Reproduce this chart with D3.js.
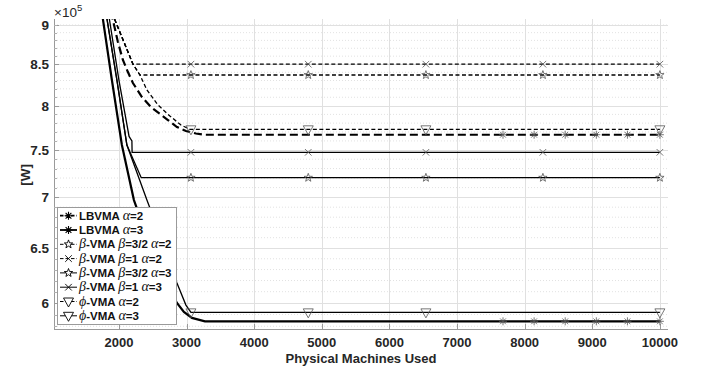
<!DOCTYPE html>
<html><head><meta charset="utf-8">
<script src="https://cdn.jsdelivr.net/npm/d3@7"></script>
<style>body{margin:0;background:#fff}svg{display:block}</style>
</head><body>
<svg id="chart" width="709" height="370"></svg>
<script>
// ---- data (x: physical machines, y: power in units of 1e5 W) ----
const xTicks = [2000, 3000, 4000, 5000, 6000, 7000, 8000, 9000, 10000];
const yTicks = [6, 6.5, 7, 7.5, 8, 8.5, 9];
const yMinor = [5.8, 5.9, 6.1, 6.2, 6.3, 6.4, 6.6, 6.7, 6.8, 6.9, 7.1, 7.2, 7.3, 7.4, 7.6, 7.7, 7.8, 7.9, 8.1, 8.2, 8.3, 8.4, 8.6, 8.7, 8.8, 8.9, 9.0];

const lbvma2X = [1837, 1911, 1985, 2059, 2133, 2207, 2340, 2473, 2606, 2725, 2858, 2991, 3139, 3272, 10000];
const lbvma2Y = [9.334, 9.066, 8.780, 8.552, 8.403, 8.270, 8.103, 7.986, 7.905, 7.835, 7.756, 7.711, 7.683, 7.669, 7.669];
const lbvma3X = [1719, 1763, 1896, 2044, 2222, 2458, 2680, 2858, 2961, 3080, 3272, 10000];
const lbvma3Y = [9.334, 9.079, 8.306, 7.555, 6.972, 6.530, 6.205, 6.000, 5.922, 5.871, 5.842, 5.842];
const beta32a2X = [1882, 1941, 2074, 2207, 2311, 10000];
const beta32a2Y = [9.334, 9.066, 8.780, 8.502, 8.367, 8.367];
const beta1a2X = [1882, 1941, 2074, 2207, 10000];
const beta1a2Y = [9.334, 9.066, 8.780, 8.50, 8.50];
const beta32a3X = [1778, 1970, 2118, 2330, 10000];
const beta32a3Y = [9.334, 8.306, 7.555, 7.203, 7.203];
const beta1a3X = [1815, 2000, 2150, 2192, 2195, 10000];
const beta1a3Y = [9.334, 8.306, 7.650, 7.600, 7.475, 7.475];
const phi2X = [1882, 1941, 2074, 2207, 2311, 2414, 2577, 2754, 2917, 3050, 10000];
const phi2Y = [9.334, 9.066, 8.780, 8.502, 8.367, 8.186, 8.009, 7.881, 7.779, 7.730, 7.730];
const phi3X = [1778, 1970, 2118, 2414, 2636, 2858, 2991, 3065, 10000];
const phi3Y = [9.334, 8.306, 7.555, 6.972, 6.577, 6.178, 5.982, 5.919, 5.919];

const lbvmaMarkX = [7680, 8140, 8600, 9060, 9520, 10000];
const betaMarkX = [3065, 4800, 6540, 8270, 10000];
const phiMarkX = [3065, 4800, 6540, 10000];

const seriesNames = [
  [["b","LBVMA "],["g","α"],["b","=2"]],
  [["b","LBVMA "],["g","α"],["b","=3"]],
  [["g","β"],["b","-VMA "],["g","β"],["b","=3/2 "],["g","α"],["b","=2"]],
  [["g","β"],["b","-VMA "],["g","β"],["b","=1 "],["g","α"],["b","=2"]],
  [["g","β"],["b","-VMA "],["g","β"],["b","=3/2 "],["g","α"],["b","=3"]],
  [["g","β"],["b","-VMA "],["g","β"],["b","=1 "],["g","α"],["b","=3"]],
  [["g","ϕ"],["b","-VMA "],["g","α"],["b","=2"]],
  [["g","ϕ"],["b","-VMA "],["g","α"],["b","=3"]]
];

const series = [
  {x: lbvma2X, y: lbvma2Y, m: lbvmaMarkX, marker: "asterisk", w: 2.2, dash: "8,4"},
  {x: lbvma3X, y: lbvma3Y, m: lbvmaMarkX, marker: "asterisk", w: 2.2, dash: null},
  {x: beta32a2X, y: beta32a2Y, m: betaMarkX, marker: "star", w: 1.3, dash: "4,2.5"},
  {x: beta1a2X, y: beta1a2Y, m: betaMarkX, marker: "cross", w: 1.3, dash: "4,2.5"},
  {x: beta32a3X, y: beta32a3Y, m: betaMarkX, marker: "star", w: 1.3, dash: null},
  {x: beta1a3X, y: beta1a3Y, m: betaMarkX, marker: "cross", w: 1.3, dash: null},
  {x: phi2X, y: phi2Y, m: phiMarkX, marker: "tri", w: 1.3, dash: "4,2.5"},
  {x: phi3X, y: phi3Y, m: phiMarkX, marker: "tri", w: 1.3, dash: null}
];

// ---- layout ----
const L = 54, R = 668, T = 19, B = 329;
const svg = d3.select("#chart");
const x = d3.scaleLinear().domain([1040, 10120]).range([L, R]);
const y = d3.scaleLog().domain([5.777, 9.079]).range([B, T]);

const SANS = "'Liberation Sans', Arial, sans-serif";
const SERIF = "'Liberation Serif', 'Times New Roman', serif";

// grid
const g = svg.append("g");
g.selectAll(".ymin").data(yMinor).join("line")
  .attr("x1", L).attr("x2", R).attr("y1", d => y(d)).attr("y2", d => y(d))
  .attr("stroke", "#e2e2e2").attr("stroke-width", 1).attr("stroke-dasharray", "1,2");
g.selectAll(".ymaj").data(yTicks).join("line")
  .attr("x1", L).attr("x2", R).attr("y1", d => Math.round(y(d)) + 0.5).attr("y2", d => Math.round(y(d)) + 0.5)
  .attr("stroke", "#e0e0e0").attr("stroke-width", 1);
g.selectAll(".xmaj").data(xTicks).join("line")
  .attr("x1", d => Math.round(x(d)) + 0.5).attr("x2", d => Math.round(x(d)) + 0.5).attr("y1", T).attr("y2", B)
  .attr("stroke", "#e0e0e0").attr("stroke-width", 1);

// axes
const ax = svg.append("g");
ax.append("line").attr("x1", L + 0.5).attr("x2", L + 0.5).attr("y1", T).attr("y2", B + 0.5).attr("stroke", "#9a9a9a");
ax.append("line").attr("x1", L).attr("x2", R).attr("y1", B + 0.5).attr("y2", B + 0.5).attr("stroke", "#9a9a9a");
ax.selectAll(".yt").data(yTicks).join("line")
  .attr("x1", L).attr("x2", L + 5).attr("y1", d => Math.round(y(d)) + 0.5).attr("y2", d => Math.round(y(d)) + 0.5).attr("stroke", "#9a9a9a");
ax.selectAll(".ytm").data(yMinor).join("line")
  .attr("x1", L).attr("x2", L + 3).attr("y1", d => Math.round(y(d)) + 0.5).attr("y2", d => Math.round(y(d)) + 0.5).attr("stroke", "#b0b0b0");
ax.selectAll(".xt").data(xTicks).join("line")
  .attr("x1", d => Math.round(x(d)) + 0.5).attr("x2", d => Math.round(x(d)) + 0.5).attr("y1", B).attr("y2", B - 5).attr("stroke", "#9a9a9a");

ax.selectAll(".yl").data(yTicks).join("text")
  .attr("x", 49).attr("y", d => y(d)).attr("dy", "0.36em").attr("text-anchor", "end")
  .attr("font-family", SANS).attr("font-weight", "bold").attr("font-size", 13.5).attr("fill", "#262626")
  .text(d => d3.format("")(d));
ax.selectAll(".xl").data(xTicks).join("text")
  .attr("x", d => x(d)).attr("y", 347).attr("text-anchor", "middle")
  .attr("font-family", SANS).attr("font-weight", "bold").attr("font-size", 13).attr("fill", "#262626")
  .text(d => d);

svg.append("text").attr("x", 361).attr("y", 363).attr("text-anchor", "middle")
  .attr("font-family", SANS).attr("font-weight", "bold").attr("font-size", 13).attr("fill", "#262626")
  .text("Physical Machines Used");
svg.append("text").attr("transform", "translate(30,175) rotate(-90)").attr("text-anchor", "middle")
  .attr("font-family", SANS).attr("font-weight", "bold").attr("font-size", 13.5).attr("fill", "#262626")
  .text("[W]");
const ex = svg.append("text").attr("x", 54).attr("y", 17)
  .attr("font-family", SANS).attr("font-size", 13.5).attr("fill", "#262626");
ex.append("tspan").text("×10");
ex.append("tspan").attr("font-size", 9.5).attr("dy", -6).text("5");

// markers
function markerPath(type) {
  const p = d3.path();
  if (type === "asterisk") {
    const r = 4;
    p.moveTo(0, -r); p.lineTo(0, r);
    p.moveTo(-r, 0); p.lineTo(r, 0);
    const q = r * 0.72;
    p.moveTo(-q, -q); p.lineTo(q, q);
    p.moveTo(-q, q); p.lineTo(q, -q);
  } else if (type === "cross") {
    const r = 3.3;
    p.moveTo(-r, -r); p.lineTo(r, r);
    p.moveTo(-r, r); p.lineTo(r, -r);
  } else if (type === "star") {
    const ro = 4.4, ri = 1.8;
    for (let i = 0; i < 10; i++) {
      const a = -Math.PI / 2 + i * Math.PI / 5;
      const rr = i % 2 ? ri : ro;
      if (i === 0) p.moveTo(rr * Math.cos(a), rr * Math.sin(a)); else p.lineTo(rr * Math.cos(a), rr * Math.sin(a));
    }
    p.closePath();
  } else if (type === "tri") {
    p.moveTo(-5, -3.5); p.lineTo(5, -3.5); p.lineTo(0, 5.5); p.closePath();
  }
  return p.toString();
}
function interp(xs, ys, v) {
  for (let i = 0; i < xs.length - 1; i++) {
    if (v >= xs[i] && v <= xs[i + 1]) {
      const t = (v - xs[i]) / (xs[i + 1] - xs[i]);
      return ys[i] + t * (ys[i + 1] - ys[i]);
    }
  }
  return ys[ys.length - 1];
}

// lines
svg.append("clipPath").attr("id", "clip").append("rect").attr("x", L).attr("y", T).attr("width", R - L).attr("height", B - T);
const plot = svg.append("g").attr("clip-path", "url(#clip)");
const line = d3.line().x(d => x(d[0])).y(d => y(d[1]));
series.forEach(s => {
  const pts = s.x.map((v, i) => [v, s.y[i]]);
  plot.append("path").attr("d", line(pts)).attr("fill", "none").attr("stroke", "#000")
    .attr("stroke-width", s.w).attr("stroke-dasharray", s.dash);
});
const mk = svg.append("g");
series.forEach(s => {
  mk.selectAll(null).data(s.m).join("path")
    .attr("transform", d => `translate(${x(d)},${y(interp(s.x, s.y, d))})`)
    .attr("d", markerPath(s.marker)).attr("fill", "none").attr("stroke", "#555").attr("stroke-width", 0.8);
});

// legend
const lg = svg.append("g");
lg.append("rect").attr("x", 57.5).attr("y", 207.5).attr("width", 119).attr("height", 117)
  .attr("fill", "#fff").attr("stroke", "#9a9a9a").attr("stroke-width", 1);
series.forEach((s, i) => {
  const cy = 215.7 + i * 14.3;
  lg.append("line").attr("x1", 60).attr("x2", 77).attr("y1", cy).attr("y2", cy)
    .attr("stroke", "#000").attr("stroke-width", s.w === 2.2 ? 1.8 : 1)
    .attr("stroke-dasharray", s.dash ? "3.5,2" : null);
  lg.append("path").attr("transform", `translate(68.5,${cy})`).attr("d", markerPath(s.marker))
    .attr("fill", "#fff").attr("stroke", "#000").attr("stroke-width", s.w === 2.2 ? 1.1 : 0.9);
  const t = lg.append("text").attr("x", 79).attr("y", cy).attr("dy", "0.36em")
    .attr("font-size", 11.5).attr("fill", "#111");
  seriesNames[i].forEach(([k, str]) => {
    const sp = t.append("tspan").text(str);
    if (k === "b") sp.attr("font-family", SANS).attr("font-weight", "bold");
    else sp.attr("font-family", SERIF).attr("font-style", "italic").attr("font-size", 14);
  });
});
</script>
</body></html>
